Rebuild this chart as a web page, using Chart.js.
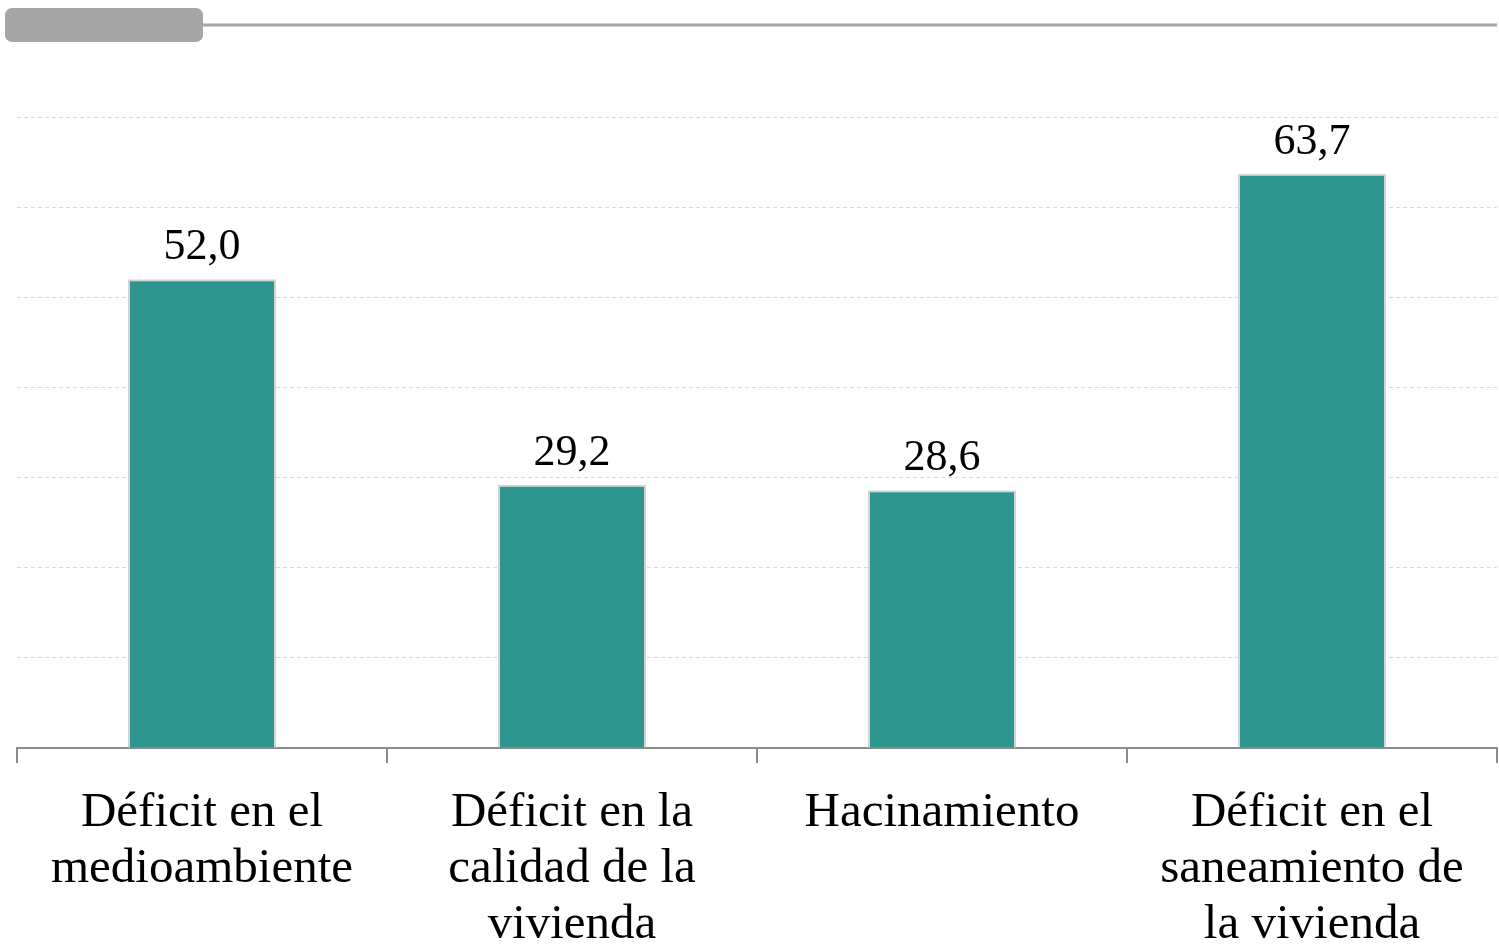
<!DOCTYPE html>
<html>
<head>
<meta charset="utf-8">
<script src="https://cdn.jsdelivr.net/npm/chart.js@4.4.1/dist/chart.umd.min.js"></script>
<style>
html,body{margin:0;padding:0;background:#fff;}
#wrap{width:1499px;height:947px;position:relative;overflow:hidden;}
</style>
</head>
<body>
<div id="wrap"><canvas id="c" width="1499" height="947"></canvas></div>
<script>
const categories = [
  ["Déficit en el", "medioambiente"],
  ["Déficit en la", "calidad de la", "vivienda"],
  ["Hacinamiento"],
  ["Déficit en el", "saneamiento de", "la vivienda"]
];
const values = [52.0, 29.2, 28.6, 63.7];
const yMin = 0, yMax = 70, yStep = 10;

const FONT = "'Liberation Serif', 'DejaVu Serif', serif";

const decoPlugin = {
  id: 'deco',
  beforeDraw(chart) {
    const ctx = chart.ctx;
    ctx.save();
    ctx.fillStyle = '#a6a6a6';
    ctx.strokeStyle = '#a6a6a6';
    ctx.lineWidth = 3;
    ctx.beginPath();
    ctx.moveTo(200, 25);
    ctx.lineTo(1497, 25);
    ctx.stroke();
    ctx.beginPath();
    ctx.roundRect(5, 8, 198, 34, 7);
    ctx.fill();
    ctx.restore();
  }
};

const labelPlugin = {
  id: 'vlabels',
  afterDatasetsDraw(chart) {
    const ctx = chart.ctx;
    const meta = chart.getDatasetMeta(0);
    ctx.save();
    ctx.font = "44px " + FONT;
    ctx.fillStyle = '#000';
    ctx.textAlign = 'center';
    ctx.textBaseline = 'alphabetic';
    meta.data.forEach((bar, i) => {
      const v = chart.data.datasets[0].data[i];
      ctx.fillText(v.toFixed(1).replace('.', ','), bar.x, bar.y - 20);
    });
    ctx.restore();
  }
};

new Chart(document.getElementById('c'), {
  type: 'bar',
  data: {
    labels: categories,
    datasets: [{
      data: values,
      backgroundColor: '#2e968f',
      borderColor: '#d4d4d4',
      borderWidth: 2,
      borderSkipped: 'bottom',
      barPercentage: 0.4,
      categoryPercentage: 1.0
    }]
  },
  options: {
    responsive: false,
    animation: false,
    devicePixelRatio: 1,
    layout: { padding: { top: 117, left: 17, right: 2, bottom: 0 } },
    plugins: { legend: { display: false }, tooltip: { enabled: false } },
    scales: {
      x: {
        offset: true,
        grid: {
          display: true,
          offset: true,
          drawOnChartArea: false,
          drawTicks: true,
          tickLength: 15,
          color: '#8c8c8c',
          lineWidth: 2
        },
        border: { display: true, color: '#8c8c8c', width: 2 },
        ticks: {
          color: '#000',
          padding: 22,
          maxRotation: 0,
          autoSkip: false,
          font: { family: FONT, size: 49, lineHeight: 1.143 }
        },
        afterFit(scale) { scale.height = 199; }
      },
      y: {
        min: yMin,
        max: yMax,
        ticks: { display: false, stepSize: yStep },
        border: { display: false, dash: [4, 3] },
        grid: {
          drawTicks: false,
          color: '#d9d9d9',
          lineWidth: 1
        },
        afterFit(scale) { scale.width = 0; }
      }
    }
  },
  plugins: [decoPlugin, labelPlugin]
});
</script>
</body>
</html>
